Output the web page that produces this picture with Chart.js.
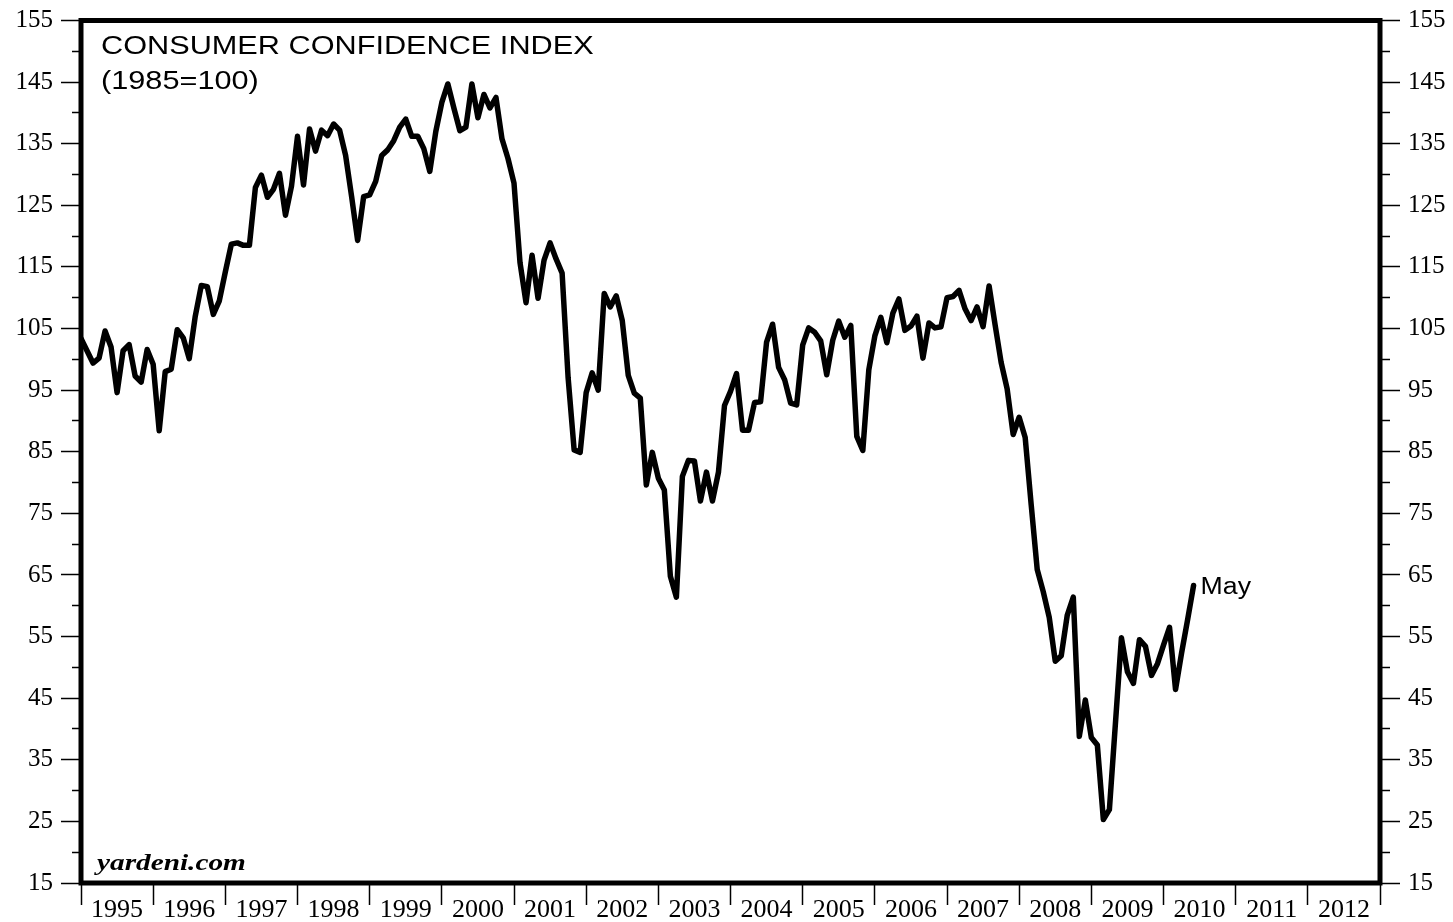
<!DOCTYPE html>
<html>
<head>
<meta charset="utf-8">
<script src="https://cdn.jsdelivr.net/npm/chart.js"></script>
<style>
  body { margin: 0; background: #fff; }
  #wrap { width: 1453px; height: 922px; }
</style>
</head>
<body>
<div id="wrap"><canvas id="cciChart" width="1453" height="922"></canvas></div>
<script>
var cciCanv = document.getElementById("cciChart");

// monthly index values (1985=100), plotted at month end
var dec1994 = [103.4];
var v1995 = [101.4, 99.4, 100.2, 104.6, 102.0, 94.6, 101.4, 102.4, 97.3, 96.3, 101.6, 99.2];
var v1996 = [88.4, 98.0, 98.4, 104.8, 103.5, 100.1, 107.0, 112.0, 111.8, 107.3, 109.5, 114.2];
var v1997 = [118.7, 118.9, 118.5, 118.5, 127.9, 129.9, 126.3, 127.6, 130.2, 123.4, 128.1, 136.2];
var v1998 = [128.3, 137.4, 133.8, 137.2, 136.3, 138.2, 137.2, 133.1, 126.4, 119.3, 126.4, 126.7];
var v1999 = [128.9, 133.1, 134.0, 135.5, 137.7, 139.0, 136.2, 136.2, 134.2, 130.5, 137.0, 141.7];
var v2000 = [144.7, 140.8, 137.1, 137.7, 144.7, 139.2, 143.0, 140.8, 142.5, 135.8, 132.6, 128.6];
var v2001 = [115.7, 109.2, 116.9, 109.9, 116.1, 118.9, 116.3, 114.0, 97.0, 85.3, 84.9, 94.6];
var v2002 = [97.8, 95.0, 110.7, 108.5, 110.3, 106.3, 97.4, 94.5, 93.7, 79.6, 84.9, 80.7];
var v2003 = [78.8, 64.8, 61.4, 81.0, 83.6, 83.5, 77.0, 81.7, 77.0, 81.7, 92.5, 94.8];
var v2004 = [97.7, 88.5, 88.5, 93.0, 93.1, 102.8, 105.7, 98.7, 96.7, 92.9, 92.6, 102.3];
var v2005 = [105.1, 104.4, 103.0, 97.5, 103.1, 106.2, 103.6, 105.5, 87.5, 85.2, 98.3, 103.8];
var v2006 = [106.8, 102.7, 107.5, 109.8, 104.7, 105.4, 107.0, 100.2, 105.9, 105.1, 105.3, 110.0];
var v2007 = [110.2, 111.2, 108.2, 106.3, 108.5, 105.3, 111.9, 105.6, 99.5, 95.2, 87.8, 90.6];
var v2008 = [87.3, 76.4, 65.9, 62.3, 58.1, 51.0, 51.9, 58.5, 61.4, 38.8, 44.7, 38.6];
var v2009 = [37.4, 25.3, 26.9, 40.8, 54.8, 49.3, 47.4, 54.5, 53.4, 48.7, 50.6, 53.6];
var v2010 = [56.5, 46.4, 52.3, 57.7, 63.3];

var yearLabels = ['1995','1996','1997','1998','1999','2000','2001','2002','2003',
                  '2004','2005','2006','2007','2008','2009','2010','2011','2012'];
var yTicks = [15, 25, 35, 45, 55, 65, 75, 85, 95, 105, 115, 125, 135, 145, 155];
var lastLabel = 'May';
var titleLines = ['CONSUMER CONFIDENCE INDEX', '(1985=100)'];
var sourceText = 'yardeni.com';

var allValues = [].concat(dec1994, v1995, v1996, v1997, v1998, v1999, v2000, v2001,
  v2002, v2003, v2004, v2005, v2006, v2007, v2008, v2009, v2010);
var points = allValues.map(function (v, i) { return { x: 1995 + i / 12, y: v }; });

var firstYear = parseInt(yearLabels[0]);
var endYear = parseInt(yearLabels[yearLabels.length - 1]) + 1;

function stretchText(ctx, text, x, y, font, sx) {
  ctx.save();
  ctx.font = font;
  ctx.textBaseline = 'alphabetic';
  ctx.textAlign = 'left';
  ctx.translate(x, y);
  ctx.scale(sx, 1);
  ctx.fillText(text, 0, 0);
  ctx.restore();
}

var notes = {
  id: 'notes',
  afterDatasetsDraw: function (chart) {
    var ctx = chart.ctx, a = chart.chartArea;
    ctx.save();
    ctx.strokeStyle = '#000';
    ctx.lineWidth = 5;
    ctx.strokeRect(a.left, a.top, a.right - a.left, a.bottom - a.top);
    ctx.fillStyle = '#000';
    stretchText(ctx, titleLines[0], a.left + 20, a.top + 33, '26px "Liberation Sans"', 1.18);
    stretchText(ctx, titleLines[1], a.left + 20, a.top + 68, '26px "Liberation Sans"', 1.18);
    stretchText(ctx, sourceText, a.left + 16, a.bottom - 13, 'italic bold 24px "Liberation Serif"', 1.22);
    var meta = chart.getDatasetMeta(0);
    var last = meta.data[meta.data.length - 1];
    stretchText(ctx, lastLabel, last.x + 7, last.y + 9, '23px "Liberation Sans"', 1.16);
    ctx.restore();
  }
};

function yAxis(pos) {
  return {
    type: 'linear',
    position: pos,
    min: yTicks[0],
    max: yTicks[yTicks.length - 1],
    afterBuildTicks: function (s) {
      var t = [];
      yTicks.forEach(function (v, i) {
        t.push({ value: v });
        if (i < yTicks.length - 1) t.push({ value: v + 5 });
      });
      s.ticks = t;
    },
    afterFit: function (s) { s.width = (pos === 'left') ? 81 : 73; },
    border: { display: false },
    grid: {
      drawOnChartArea: false,
      tickLength: 20,
      tickWidth: 1.5,
      tickColor: '#000',
      tickBorderDash: function (c) {
        var major = c.tick && yTicks.indexOf(c.tick.value) >= 0;
        if (major) return [];
        return (pos === 'left') ? [0, 11, 9, 100] : [10, 100];
      }
    },
    ticks: {
      autoSkip: false,
      padding: 8,
      color: '#000',
      font: { family: '"Liberation Serif"', size: 25, lineHeight: 1 },
      callback: function (v) { return yTicks.indexOf(v) >= 0 ? String(v) : ''; }
    }
  };
}

var cciPlot = new Chart(cciCanv, {
  type: 'line',
  data: {
    datasets: [{
      label: 'Consumer Confidence Index',
      data: points,
      borderColor: '#000',
      borderWidth: 5.5,
      pointRadius: 0,
      tension: 0,
      borderJoinStyle: 'round',
      borderCapStyle: 'round'
    }]
  },
  options: {
    responsive: false,
    animation: false,
    layout: { padding: { top: 18, left: 0, right: 0, bottom: 0 } },
    plugins: { legend: { display: false }, tooltip: { enabled: false } },
    scales: {
      x: {
        type: 'linear',
        position: 'bottom',
        min: firstYear,
        max: endYear,
        afterBuildTicks: function (s) {
          var t = [];
          for (var y = firstYear; y <= endYear; y++) {
            t.push({ value: y });
            if (y < endYear) t.push({ value: y + 0.5 });
          }
          s.ticks = t;
        },
        afterFit: function (s) { s.height = 39; },
        border: { display: false },
        grid: {
          drawOnChartArea: false,
          tickLength: 22,
          tickWidth: 1.5,
          tickColor: function (c) {
            return (c.tick && c.tick.value % 1 === 0) ? '#000' : 'rgba(0,0,0,0)';
          }
        },
        ticks: {
          autoSkip: false,
          maxRotation: 0,
          padding: -10,
          color: '#000',
          font: { family: '"Liberation Serif"', size: 26 },
          callback: function (v) {
            return (v % 1 !== 0) ? yearLabels[Math.floor(v) - firstYear] : '';
          }
        }
      },
      y: yAxis('left'),
      y2: yAxis('right')
    }
  },
  plugins: [notes]
});
</script>
</body>
</html>
